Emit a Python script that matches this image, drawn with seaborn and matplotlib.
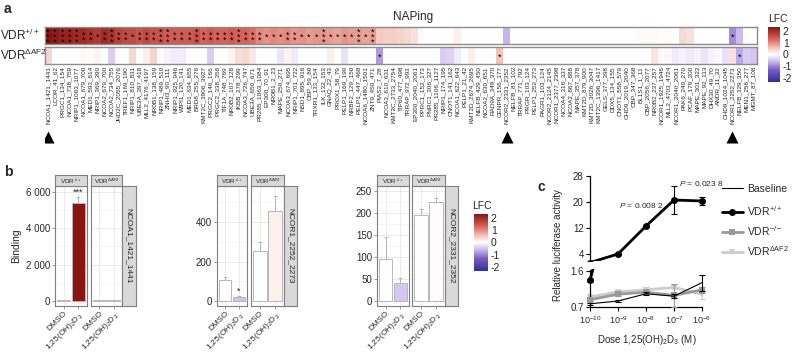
import numpy as np
import matplotlib
matplotlib.use('Agg')
import matplotlib.pyplot as plt
import seaborn as sns
import pandas as pd
from matplotlib.colors import LinearSegmentedColormap, Normalize
from matplotlib.cm import ScalarMappable
from matplotlib.lines import Line2D
from matplotlib.ticker import MultipleLocator, NullLocator

sns.set_theme(style='ticks')
plt.rcParams['font.family'] = ['Liberation Sans', 'DejaVu Sans']
plt.rcParams['mathtext.fontset'] = 'custom'
plt.rcParams['mathtext.rm'] = 'Liberation Sans'
plt.rcParams['mathtext.it'] = 'Liberation Sans:italic'
plt.rcParams['mathtext.bf'] = 'Liberation Sans:bold'
plt.rcParams['mathtext.default'] = 'regular'

# ---------------- data: panel a ----------------
peptides = [
    'NCOA1_1421_1441', 'LCOR_41_62', 'PRGC1_134_154', 'NCOA1_738_759', 'NRIP1_1063_1077',
    'NCOA1_679_700', 'MED1_593_614', 'NRIP1_369_390', 'NCOA2_679_700', 'NCOA2_734_755',
    'JHD2C_2055_2076', 'TREF1_169_190', 'NRIP1_810_831', 'UBE3A_397_418', 'MLL2_4176_4197',
    'NR0B1_138_159', 'NRIP1_489_510', 'ZNHI3_90_111', 'NRIP1_925_946', 'WIPI1_120_141',
    'MED1_634_655', 'BRD8_255_276', 'KMT2C_3906_3927', 'PRGC2_146_166', 'PRGC2_338_358',
    'TIF1A_748_769', 'NR0B2_107_128', 'IKBB_278_299', 'NCOA3_726_747', 'UBE3A_650_671',
    'PR285_1063_1084', 'EP300_70_91', 'NR0B1_2_23', 'MAPE_250_271', 'NCOA3_674_695',
    'NRIP1_701_722', 'NSD1_895_916', 'CBP_59_80', 'TRXR1_133_154', 'ILK_132_153',
    'GNAQ_22_43', 'PROX1_58_79', 'PELP1_169_190', 'NRBF2_129_150', 'PELP1_447_468',
    'NCOA6_1480_1501', 'ZNT9_450_471', 'PIAS2_7_28', 'NCOA3_610_631', 'KMT2C_2733_2754',
    'TIP60_477_498', 'TRRAP_972_993', 'EP300_2040_2061', 'PPRC1_152_173', 'PNRC1_306_327',
    'PR285_1106_1127', 'NRIP1_174_195', 'CNOT1_141_162', 'NCOA1_622_643', 'PELP1_21_42',
    'KMT2D_2674_2695', 'NELFB_429_450', 'NCOA2_630_651', 'RAD9A_349_370', 'CENPR_156_177',
    'NCOR2_2331_2352', 'NELFB_81_102', 'TRRAP_771_792', 'PRGR_103_124', 'PELP1_252_273',
    'PAGR1_103_124', 'NCOR2_2124_2145', 'NCOR1_2377_2398', 'NCOA4_316_337', 'NCOA2_867_888',
    'MAPE_357_378', 'KMT2D_879_900', 'KMT2D_3026_3047', 'KMT2C_1396_1417', 'GELS_377_398',
    'DDX5_134_155', 'CNOT1_558_579', 'CHD9_2019_2040', 'CBP_347_368', 'BL1S1_1_11',
    'CBP_2056_2077', 'NR0B2_237_257', 'NCOR1_1925_1946', 'MLL2_4703_4724', 'NCOR1_2040_2061',
    'PAK6_249_270', 'PCAF_179_200', 'MAPE_301_322', 'MAPE_92_113', 'DHX30_49_70',
    'ANDR_11_32', 'CHD9_1024_1045', 'NCOR1_2252_2273', 'NELFB_329_350', 'MEN1_256_277',
    'MGMT_87_108',
]
lfc_wt = [
    2.3, 2.2, 2.1, 2.1, 2.0, 2.0, 1.9, 1.8, 2.0, 1.9,
    1.7, 1.6, 1.6, 1.5, 1.6, 1.5, 1.5, 1.4, 1.4, 1.4,
    1.4, 1.5, 1.3, 1.4, 1.3, 1.3, 1.4, 1.3, 1.3, 1.2,
    1.0, 0.95, 1.0, 0.95, 1.0, 0.9, 0.95, 0.85, 0.9, 0.9,
    0.85, 0.8, 0.9, 0.85, 0.85, 0.8, 0.85, 0.5, 0.45, 0.45,
    0.4, 0.35, 0.3, 0.05, 0.0, 0.0, 0.0, 0.0, 0.15, 0.0,
    0.0, 0.0, 0.0, 0.0, 0.0, -0.6, 0.0, 0.0, 0.0, 0.0,
    0.0, 0.0, 0.0, 0.0, 0.0, 0.0, 0.0, 0.0, 0.0, 0.0,
    0.0, 0.0, 0.0, 0.0, 0.05, 0.05, 0.05, 0.0, 0.05, 0.0,
    0.35, 0.3, 0.0, 0.0, 0.0, 0.0, 0.0, -0.9, -0.55, 0.0,
    0.0,
]
lfc_af2 = [
    0.35, 0.0, 0.0, 0.0, 0.0, 0.05, 0.0, 0.1, 0.0, -0.4,
    0.0, 0.0, 0.35, 0.0, 0.15, 0.4, 0.0, -0.1, -0.15, -0.15,
    0.0, 0.0, 0.0, -0.4, 0.0, 0.0, 0.1, 0.3, 0.35, 0.2,
    0.0, 0.0, 0.0, -0.2, 0.1, -0.15, 0.0, 0.0, 0.0, 0.0,
    0.15, 0.0, -0.25, 0.0, 0.0, 0.0, 0.0, -0.8, 0.0, 0.0,
    0.0, 0.0, 0.0, 0.0, 0.0, 0.0, -0.4, -0.35, -0.15, 0.0,
    0.15, 0.0, 0.0, 0.0, 0.55, 0.0, 0.0, 0.0, 0.0, 0.0,
    0.0, 0.0, 0.0, 0.0, 0.0, 0.0, 0.0, 0.0, 0.0, 0.0,
    0.0, 0.0, 0.0, 0.0, 0.0, 0.0, 0.25, 0.05, -0.05, -0.15,
    -0.1, -0.15, -0.1, -0.2, -0.1, -0.05, -0.25, 0.3, -0.7, -0.4,
    -0.45,
]
stars_wt = [
    3, 3, 3, 3, 3, 2, 2, 1, 2, 3,
    2, 2, 1, 2, 2, 2, 3, 3, 2, 2,
    2, 3, 2, 2, 2, 2, 2, 3, 2, 2,
    2, 1, 1, 1, 2, 2, 1, 1, 1, 3,
    1, 1, 1, 1, 3, 1, 3, 0, 0, 0,
    0, 0, 0, 0, 0, 0, 0, 0, 0, 0,
    0, 0, 0, 0, 0, 0, 0, 0, 0, 0,
    0, 0, 0, 0, 0, 0, 0, 0, 0, 0,
    0, 0, 0, 0, 0, 0, 0, 0, 0, 0,
    0, 0, 0, 0, 0, 0, 0, 1, 0, 0,
    0,
]
stars_af2 = [0] * 101
stars_af2[47] = 1
stars_af2[64] = 1
stars_af2[98] = 1
marked = ['NCOA1_1421_1441', 'NCOR2_2331_2352', 'NCOR1_2252_2273']

# ---------------- data: panel b ----------------
conditions = ['DMSO', r'1,25(OH)$_2$D$_3$']
ncoa1_wt, ncoa1_wt_err, ncoa1_wt_lfc = [30, 5400], [10, 320], [0, 2.3]
ncoa1_af2, ncoa1_af2_err, ncoa1_af2_lfc = [35, 55], [8, 10], [0, 0.1]
ncor1_wt, ncor1_wt_err, ncor1_wt_lfc = [105, 20], [18, 5], [0, -0.5]
ncor1_af2, ncor1_af2_err, ncor1_af2_lfc = [252, 455], [45, 75], [0, 0.15]
ncor2_wt, ncor2_wt_err, ncor2_wt_lfc = [95, 40], [50, 12], [0, -0.45]
ncor2_af2, ncor2_af2_err, ncor2_af2_lfc = [195, 225], [13, 8], [0, 0.03]

# ---------------- data: panel c ----------------
dose = [1e-10, 1e-9, 1e-8, 1e-7, 1e-6]
dose_labels = [r'$10^{-10}$', r'$10^{-9}$', r'$10^{-8}$', r'$10^{-7}$', r'$10^{-6}$']
luc_wt = [1.37, 4.0, 12.6, 20.6, 20.3]
luc_wt_err = [0.04, 0.3, 0.4, 4.2, 1.1]
luc_ko = [0.88, 1.02, 1.07, 0.99, 1.13]
luc_ko_err = [0.03, 0.05, 0.05, 0.28, 0.08]
luc_af2 = [0.95, 1.08, 1.13, 1.19, 1.02]
luc_af2_err = [0.03, 0.05, 0.06, 0.05, 0.12]
luc_base = [0.78, 0.85, 1.03, 0.97, 1.31]
luc_base_err = [0.02, 0.02, 0.04, 0.05, 0.2]

# ---------------- figure ----------------
W, H = 799, 352
fig = plt.figure(figsize=(W / 100, H / 100), dpi=100)


def axp(x0, y0, x1, y1):
    return fig.add_axes([x0 / W, 1 - y1 / H, (x1 - x0) / W, (y1 - y0) / H])


def ftext(x, y, s, **kw):
    return fig.text(x / W, 1 - y / H, s, **kw)


cmap = LinearSegmentedColormap.from_list('lfc', [
    (0.0, '#2a3399'), (0.22, '#7b5cc4'), (0.38, '#cdbbef'), (0.5, '#ffffff'),
    (0.62, '#f3c4ba'), (0.78, '#d9645a'), (1.0, '#8a1510')])
norm = Normalize(vmin=-2.3, vmax=2.3)
GREY = '#8c8c8c'

# ---- panel a ----
ftext(4, 9, 'a', fontsize=10, fontweight='bold', va='center')
ftext(413, 17, 'NAPing', fontsize=8.5, ha='center', va='center')
ftext(0, 35, r'VDR$^{+/+}$', fontsize=8.5, va='center')
ftext(0, 55, r'VDR$^{\Delta AF2}$', fontsize=8.5, va='center')

X0, X1 = 44.5, 757
for (ya, yb), vals, stars, lab in [((27, 44), lfc_wt, stars_wt, False),
                                    ((47, 64), lfc_af2, stars_af2, True)]:
    ax = axp(X0, ya, X1, yb)
    df = pd.DataFrame([vals], columns=peptides)
    sns.heatmap(df, ax=ax, cmap=cmap, vmin=-2.3, vmax=2.3, cbar=False,
                xticklabels=lab, yticklabels=False, linewidths=0)
    for s in ax.spines.values():
        s.set_visible(True)
        s.set_color(GREY)
        s.set_linewidth(1.0)
    for i, n in enumerate(stars):
        if n:
            ax.text(i + 0.5, 0.62, '\n'.join(['*'] * n), ha='center', va='center',
                    fontsize=6.5, linespacing=0.45, color='black')
    if lab:
        ax.set_xticks(np.arange(len(peptides)) + 0.5)
        ax.set_xticklabels(peptides, rotation=90, fontsize=4.6)
        ax.tick_params(axis='x', length=0, pad=1.5)
    ax.set_xlabel('')
    ax.set_ylabel('')

ax_tri = axp(X0, 128, X1, 146)
ax_tri.set_xlim(0, len(peptides))
ax_tri.set_ylim(0, 1)
ax_tri.axis('off')
tri_x = [peptides.index(p) + 0.5 for p in marked]
ax_tri.scatter(tri_x, [0.5] * len(tri_x), marker='^', s=75, color='black', linewidths=0)

cax = axp(768, 27, 780, 82)
cb = fig.colorbar(ScalarMappable(norm=norm, cmap=cmap), cax=cax, ticks=[2, 1, 0, -1, -2])
cb.outline.set_visible(False)
cb.ax.set_yticklabels(['2', '1', '0', '-1', '-2'])
cax.tick_params(length=0, labelsize=7.5, pad=2)
ftext(768, 19, 'LFC', fontsize=7.5, va='center')

# ---- panel b ----
ftext(4, 172, 'b', fontsize=10, fontweight='bold', va='center')


def bar_facet(p1, p2, strip_end, ylim, yticks, yticklabels, minor, series, label, stars_txt=None, ylabel=None):
    headers = [r'VDR$^{+/+}$', r'VDR$^{\Delta AF2}$']
    for k, ((xa, xb), (vals, errs, lfcs)) in enumerate(zip([p1, p2], series)):
        ax = axp(xa, 186, xb, 306)
        cols = [cmap(norm(v)) for v in lfcs]
        ax.set_axisbelow(True)
        ax.errorbar([0, 1], vals, yerr=errs, fmt='none', ecolor='#b5b5b5',
                    elinewidth=0.7, capsize=1.2, capthick=0.7, zorder=1.5)
        sns.barplot(x=conditions, y=vals, hue=conditions, palette=cols, legend=False,
                    ax=ax, width=0.9, edgecolor='#b8b8b8', linewidth=0.7, zorder=2,
                    saturation=1, errorbar=None)
        ax.set_xlim(-0.6, 1.6)
        ax.set_ylim(ylim)
        ax.set_yticks(yticks)
        ax.yaxis.set_minor_locator(MultipleLocator(minor))
        ax.grid(True, which='major', color='#e6e6e6', lw=0.6)
        ax.yaxis.grid(True, which='minor', color='#f0f0f0', lw=0.4)
        ax.set_xticks([0, 1])
        ax.set_xticklabels(conditions, rotation=45, ha='right', rotation_mode='anchor', fontsize=6)
        ax.tick_params(axis='x', length=2, width=0.6, color=GREY, pad=1, bottom=True)
        ax.tick_params(axis='y', which='minor', length=0)
        if k == 0:
            ax.set_yticklabels(yticklabels, fontsize=7)
            ax.tick_params(axis='y', length=2, width=0.6, color=GREY, pad=1.5, left=True)
        else:
            ax.tick_params(axis='y', length=0, labelleft=False)
        for s in ax.spines.values():
            s.set_visible(True)
            s.set_color('#7f7f7f')
            s.set_linewidth(0.8)
        ax.set_xlabel('')
        ax.set_ylabel('')
        if k == 0 and stars_txt:
            ax.text(1, vals[1] + errs[1], stars_txt, ha='center', va='bottom', fontsize=6.5)
        if k == 0 and ylabel:
            ax.set_ylabel(ylabel, fontsize=7.5, labelpad=3)
        # header strip
        hx = axp(xa, 175, xb, 186)
        hx.set_xticks([]); hx.set_yticks([])
        hx.set_facecolor('#d9d9d9')
        for s in hx.spines.values():
            s.set_color('#7f7f7f'); s.set_linewidth(0.8)
        hx.text(0.5, 0.45, headers[k], ha='center', va='center', fontsize=4.5, transform=hx.transAxes)
    sx = axp(p2[1], 186, strip_end, 306)
    sx.set_xticks([]); sx.set_yticks([])
    sx.set_facecolor('#d9d9d9')
    for s in sx.spines.values():
        s.set_color('#7f7f7f'); s.set_linewidth(0.8)
    sx.text(0.5, 0.5, label, rotation=-90, ha='center', va='center', fontsize=6, transform=sx.transAxes)


bar_facet((55, 87), (91, 122), 136, (-275, 6330), [0, 2000, 4000, 6000],
          ['0', '2 000', '4 000', '6 000'], 1000,
          [(ncoa1_wt, ncoa1_wt_err, ncoa1_wt_lfc), (ncoa1_af2, ncoa1_af2_err, ncoa1_af2_lfc)],
          'NCOA1_1421_1441', stars_txt='***', ylabel='Binding')
bar_facet((217, 247), (251, 284), 297, (-25, 582), [0, 200, 400], ['0', '200', '400'], 100,
          [(ncor1_wt, ncor1_wt_err, ncor1_wt_lfc), (ncor1_af2, ncor1_af2_err, ncor1_af2_lfc)],
          'NCOR1_2252_2273', stars_txt='*')
bar_facet((377, 409), (412, 445), 458, (-11.4, 261), [0, 50, 100, 150, 200, 250],
          ['0', '50', '100', '150', '200', '250'], 25,
          [(ncor2_wt, ncor2_wt_err, ncor2_wt_lfc), (ncor2_af2, ncor2_af2_err, ncor2_af2_lfc)],
          'NCOR2_2331_2352')

cax2 = axp(474, 214, 488, 271)
cb2 = fig.colorbar(ScalarMappable(norm=norm, cmap=cmap), cax=cax2, ticks=[2, 1, 0, -1, -2])
cb2.outline.set_visible(False)
cb2.ax.set_yticklabels(['2', '1', '0', '-1', '-2'])
cax2.tick_params(length=0, labelsize=7.5, pad=2)
ftext(472, 206, 'LFC', fontsize=7.5, va='center')

# ---- panel c ----
ftext(537, 187, 'c', fontsize=10, fontweight='bold', va='center')
px_dec = (702 - 590) / 4.0
ext = 0.3
ax_up = axp(590 - ext * px_dec, 174, 702 + ext * px_dec, 261)
ax_lo = axp(590 - ext * px_dec, 269, 702 + ext * px_dec, 307)
up_lim = (4 - 7 * 8 / 26.0, 28.6)
lo_lim = (0.7, 1.65)

series_c = [
    (luc_ko, luc_ko_err, '#999999', 's', 4.5, 2.0, 3),
    (luc_af2, luc_af2_err, '#cccccc', 'v', 5, 2.0, 2),
    (luc_base, luc_base_err, 'black', None, 0, 0.8, 4),
    (luc_wt, luc_wt_err, 'black', 'o', 5, 2.0, 5),
]
for ax, lim, ser in [(ax_up, up_lim, series_c[-1:]), (ax_lo, lo_lim, series_c)]:
    ax.set_xscale('log')
    for vals, errs, col, mk, ms, lw, z in ser:
        sns.lineplot(x=dose, y=vals, ax=ax, color=col, lw=lw, marker=mk, markersize=ms,
                     markeredgewidth=0, zorder=z, errorbar=None)
        ax.errorbar(dose, vals, yerr=errs, fmt='none', ecolor=col, elinewidth=0.8,
                    capsize=2, capthick=0.8, zorder=z)
    ax.set_xlim(10 ** (-10 - ext), 10 ** (-6 + ext))
    ax.set_ylim(lim)
    ax.set_facecolor('none')
    ax.spines['top'].set_visible(False)
    ax.spines['right'].set_visible(False)
    ax.spines['left'].set_position(('data', 1e-10))
    ax.spines['left'].set_linewidth(0.9)
    ax.spines['left'].set_color('black')
    ax.xaxis.set_minor_locator(NullLocator())
    ax.tick_params(axis='y', length=3, width=0.8, color='black', labelsize=7, pad=1.5, left=True)
    ax.set_xlabel('')
    ax.set_ylabel('')

ax_up.spines['bottom'].set_visible(False)
ax_up.set_xticks([])
ax_up.set_yticks([4, 12, 20, 28])
ax_up.spines['left'].set_bounds(up_lim[0], 28)
ax_lo.set_yticks([0.7, 1.6])
ax_lo.set_yticklabels(['0.7', '1.6'])
ax_lo.spines['left'].set_bounds(0.7, 1.62)
ax_lo.spines['bottom'].set_bounds(1e-10, 1e-6)
ax_lo.spines['bottom'].set_linewidth(0.9)
ax_lo.spines['bottom'].set_color('black')
ax_lo.set_xticks(dose)
ax_lo.set_xticklabels(dose_labels, fontsize=6.5)
ax_lo.tick_params(axis='x', length=3, width=0.8, color='black', pad=2, bottom=True)

ftext(558, 245, 'Relative luciferase activity', rotation=90, fontsize=7, ha='center', va='center')
ftext(647, 340, r'Dose 1,25(OH)$_2$D$_3$ (M)', fontsize=7, ha='center', va='center')
ftext(619, 205, r'$\mathit{P}$ = 0.008 2', fontsize=6, va='center')
ftext(679, 184, r'$\mathit{P}$ = 0.023 8', fontsize=6, va='center')

fig.legend([Line2D([], [], color='black', lw=0.8)], ['Baseline'], loc='center left',
           bbox_to_anchor=(722 / W, 1 - 189 / H), frameon=False, fontsize=7.5,
           handlelength=2, handletextpad=0.4, borderpad=0, borderaxespad=0)
h_wt = Line2D([], [], color='black', lw=2, marker='o', markersize=5, markeredgewidth=0)
h_ko = Line2D([], [], color='#999999', lw=2, marker='s', markersize=4.5, markeredgewidth=0)
h_af = Line2D([], [], color='#cccccc', lw=2, marker='v', markersize=5, markeredgewidth=0)
fig.legend([h_wt, h_ko, h_af], [r'VDR$^{+/+}$', r'VDR$^{-/-}$', r'VDR$^{\Delta AF2}$'],
           loc='upper left', bbox_to_anchor=(722 / W, 1 - 204 / H), frameon=False,
           fontsize=7.5, handlelength=2, handletextpad=0.4, borderpad=0, borderaxespad=0,
           labelspacing=0.6)

fig.savefig('out.png', dpi=100)
